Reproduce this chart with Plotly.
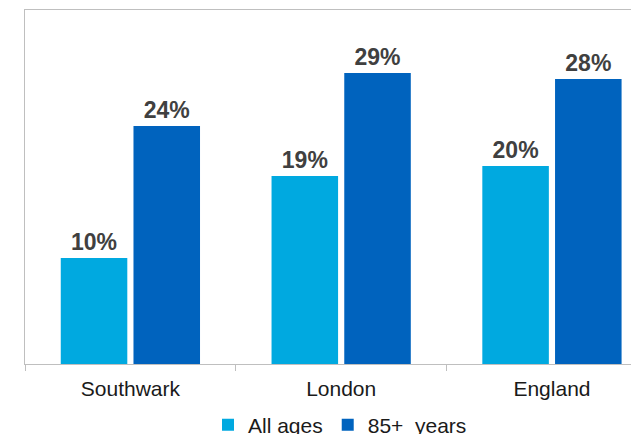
import plotly.graph_objects as go

# categories and series (percent)
areas = ["Southwark", "London", "England"]
all_ages = [10.6, 18.8, 19.8]
aged_85 = [23.8, 29.1, 28.5]
all_ages_labels = ["10%", "19%", "20%"]
aged_85_labels = ["24%", "29%", "28%"]

light_blue = "#00A9E0"
dark_blue = "#0063BE"
label_font = dict(family="Liberation Sans, Arial, sans-serif", size=23, color="#404040")

fig = go.Figure()
fig.add_trace(go.Bar(x=areas, y=all_ages, name="All ages", marker_color=light_blue,
                     text=all_ages_labels, textposition="outside", textfont=label_font,
                     cliponaxis=False))
fig.add_trace(go.Bar(x=areas, y=aged_85, name="85+  years", marker_color=dark_blue,
                     text=aged_85_labels, textposition="outside", textfont=label_font,
                     cliponaxis=False))

fig.update_traces(texttemplate="<b>%{text}</b>", marker_line_width=0)

# the page body has an 8px margin, so the figure is drawn 8px in and down
fig.update_layout(
    width=639, height=434,
    margin=dict(l=17, r=8, t=2, b=78),
    paper_bgcolor="white", plot_bgcolor="white",
    font=dict(family="Liberation Sans, Arial, sans-serif", size=21, color="#1a1a1a"),
    barmode="group", bargap=0.31, bargroupgap=0.085,
    showlegend=True,
    legend=dict(orientation="h", xref="container", yref="container",
                x=332 / 639, xanchor="center", y=1 - 417 / 434, yanchor="middle",
                font=dict(size=21, color="#1a1a1a"), bgcolor="rgba(0,0,0,0)"),
)
fig.update_xaxes(range=[-0.5, 2.413], showline=True, linecolor="#bfbfbf", linewidth=1,
                 mirror=True, ticks="outside", tickson="boundaries", ticklen=6,
                 tickcolor="#bfbfbf", showgrid=False, ticklabelstandoff=6)
fig.update_yaxes(range=[0, 35.4], showline=True, linecolor="#bfbfbf", linewidth=1,
                 showticklabels=False, showgrid=False, zeroline=False, ticks="")

fig.write_html("out.html")
